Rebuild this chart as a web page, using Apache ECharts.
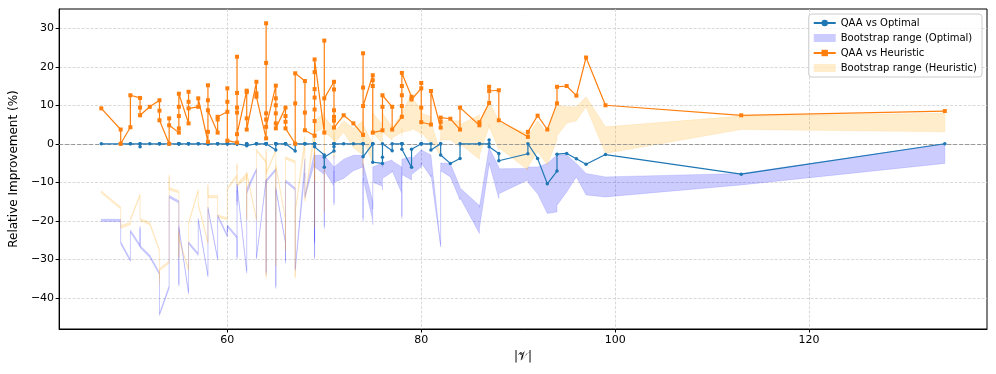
<!DOCTYPE html>
<html>
<head>
<meta charset="utf-8">
<script src="https://cdn.jsdelivr.net/npm/echarts@6/dist/echarts.min.js"></script>
<style>html, body { margin: 0; padding: 0; background: #fff; }</style>
</head>
<body>
<div id="main" style="width: 996px; height: 374px"></div>
<script>
// |V| of each instance (one entry per instance, sorted)
var sizes = [
    47, 49, 49, 50, 50, 51, 51, 51, 52, 53, 53, 53, 54, 54, 54,
    55, 55, 55, 55, 55, 56, 56, 56, 56, 57, 57, 58, 58, 58, 58, 58,
    59, 59, 59, 60, 60, 60, 60, 61, 61, 61, 61, 61, 61, 62, 62, 62, 62,
    63, 63, 63, 64, 64, 64, 64, 64, 64, 65, 65, 65, 65, 65, 65,
    66, 66, 66, 66, 67, 67, 67, 68, 68, 68, 69, 69, 69, 69, 69, 69, 69,
    70, 70, 70, 71, 71, 71, 71, 71, 71, 72, 73, 74, 74, 74, 74,
    75, 75, 75, 75, 76, 76, 76, 77, 77, 78, 78, 78, 78, 78, 79, 79,
    80, 80, 80, 80, 81, 81, 82, 82, 82, 83, 84, 84, 86, 86, 87, 87, 87,
    88, 88, 91, 91, 92, 93, 94, 94, 95, 96, 97, 99, 113, 134
];
// relative improvement vs optimal (%)
var vsOptimal = [
    0, 0, 0, 0, 0, 0, -0.8, 0, 0, 0, 0, 0, 0, 0, 0,
    0, 0, 0, 0, 0, 0, 0, 0, 0, 0, 0, 0, 0, 0, 0, 0,
    0, 0, 0, 0, 0, 0, 0, 0, 0, 0, 0, 0, 0, -0.5, 0, 0, 0,
    0, 0, 0, 0, 0, 0, 0, 0, 0, -1.6, 0, 0, 0, 0, 0,
    0, 0, 0, 0, -1.9, 0, 0, 0, 0, 0, 0, 0, 0, 0, 0, 0, -0.8,
    -2.9, -6.1, -3.5, -1.9, -0.8, 0, 0, 0, 0, 0, 0, 0, 0, 0, -3.4,
    0, 0, 0, -4.8, -5.1, -3.5, 0, -1.8, 0, 0, 0, 0, 0, -1.4, -6.1, -1.4,
    0, 0, 0, 0, 0, -1.6, 0, 0, -2.9, -5.1, -3.8, 0, 0, 0, 0, 1.0, -0.8,
    -2.5, -4.4, -2.6, 0, -3.8, -10.4, -7.1, -2.7, -2.5, -3.9, -5.3, -2.8, -7.9, 0
];
// relative improvement vs heuristic (%)
var vsHeuristic = [
    9.2, 3.7, 0, 4.3, 12.6, 11.9, 9.4, 7.4, 9.6, 11.3, 8.6, 6.1, 0, 6.6, 4.8,
    2.9, 4.0, 7.2, 9.6, 13.0, 5.3, 13.5, 10.9, 9.2, 9.6, 11.8, 0.5, 3.1, 15.2, 11.3, 8.7,
    2.9, 6.3, 7.0, 8.3, 10.9, 14.4, 0.8, 0.3, 22.6, 13.2, 9.4, 8.1, 2.5, 13.8, 13.4, 6.6, 3.7,
    16.1, 13.1, 12.2, 1.4, 31.3, 21.0, 7.9, 6.3, 4.4, 15.1, 11.8, 10.0, 7.9, 5.3, 4.0,
    9.4, 7.2, 5.7, 4.0, 0, 10.5, 18.3, 16.3, 8.1, 3.5, 2.1, 5.9, 8.9, 12.0, 14.2, 18.6, 21.9,
    2.9, 26.8, 11.8, 16.1, 14.1, 8.7, 7.0, 6.0, 4.2, 7.4, 5.3, 2.3, 23.5, 14.6, 9.8,
    17.8, 16.5, 15.0, 2.9, 3.5, 9.6, 12.6, 9.6, 3.7, 7.0, 9.8, 12.6, 15.0, 18.4, 12.2, 11.5,
    14.4, 15.8, 9.4, 5.6, 5.0, 13.7, 4.2, 5.7, 6.8, 6.5, 3.7, 9.4, 4.8, 5.6, 10.6, 14.8, 13.7,
    13.9, 6.1, 1.8, 3.1, 7.3, 3.7, 10.5, 14.8, 15.0, 12.5, 22.4, 10.0, 7.4, 8.5
];
// bootstrap range [low, high] vs optimal
var optBand = [
    [-20.2, -19.6], [-20.2, -19.6], [-26, -25.4], [-30.6, -30], [-23, -22.4],
    [-26.8, -26.2], [-22, -21.4], [-27, -26.4], [-29.5, -28.9],
    [-34, -33.4], [-41.6, -41], [-44.6, -44], [-37.6, -36.8], [-20, -19.4], [-14, -13.4],
    [-15.4, -14.8], [-20, -19.4], [-37, -36.4], [-25, -24.4], [-22, -21.4],
    [-39, -38.4], [-35, -34.4], [-30, -29.4], [-26, -25.4], [-29, -28.4], [-20, -19.4],
    [-34.6, -34], [-30, -29.4], [-29, -28.4], [-20, -19.4], [-17, -16.4],
    [-30.2, -29.6], [-24, -23.4], [-19, -18.4],
    [-24.2, -23.6], [-22, -21.4], [-23, -22.4], [-21.6, -21],
    [-24.6, -24], [-30, -29.4], [-12, -10.4], [-14, -13.4], [-16, -15], [-11, -10.4],
    [-33.6, -33], [-21.6, -20], [-17, -15], [-13, -11.6],
    [-7, -6.4], [-20, -19.4], [-30, -29.4],
    [-9.6, -9], [-22, -21.4], [-34, -33.4], [-25, -24.4], [-14, -13.4], [-10, -9.4],
    [-7, -6.4], [-17, -16.4], [-37.6, -37], [-30, -29.4], [-20, -19.4], [-12, -11.4],
    [-26, -25.4], [-31, -30.4], [-18, -17.4], [-10, -9.4],
    [-12, -11.4], [-25, -24.4], [-33, -32.4],
    [-7.6, -4], [-10, -6], [-14, -13.4],
    [-5, -2], [-30, -29.4], [-8, -5], [-12, -11.4], [-20, -19.4], [-26, -25.4], [-6, -3],
    [-8, -3], [-22, -21.4], [-7, -3],
    [-11, -6], [-16, -15.4], [-8, -4], [-7, -3], [-9, -5], [-10, -6],
    [-9, -4], [-7, -3],
    [-6, -3], [-20, -19.4], [-14, -8], [-9, -5],
    [-20, -15], [-21, -17], [-14, -10], [-10, -6],
    [-11, -5], [-12, -6], [-9, -5], [-7.3, -4.2], [-7, -4.5],
    [-12.9, -6], [-19.4, -18.8], [-10, -6], [-9, -5], [-8, -4], [-9.4, -3.4], [-8, -4],
    [-6, -1.6], [-5, -2], [-6, -2], [-5, -1.6], [-8.6, -2.9], [-8, -3],
    [-26.8, -26.2], [-8, -5], [-7, -5], [-8.6, -5.1], [-14.6, -11.2], [-14, -11.5],
    [-23.3, -16], [-22, -16.5], [-5.5, -0.8], [-5, -1], [-5, -1],
    [-14.2, -6], [-13, -6.5], [-9.4, -6.4], [-10, -6], [-13, -6], [-18.1, -5.1],
    [-17.7, -2.9], [-16, -3], [-12.5, -2.9], [-8.6, -5.1], [-13.3, -7.7], [-13.8, -8.6],
    [-10.7, -7.7], [-5.1, 0]
];
// bootstrap range [low, high] vs heuristic
var heurBand = [
    [-12.8, -12.2], [-17, -16.4], [-22, -21.2], [-21, -20.4], [-20, -19.4],
    [-13.6, -13], [-15, -14.4], [-20, -19.4], [-21, -20.4],
    [-28, -27.4], [-36.6, -35], [-33, -32.4], [-31, -30.4], [-8.6, -8], [-12, -11.4],
    [-12.8, -12.2], [-20, -19.4], [-30, -29.4], [-23, -22.4], [-25, -24.4],
    [-33, -32.4], [-28, -27.4], [-24, -23.4], [-21, -20.4], [-12.4, -11.8], [-16, -15.4],
    [-26, -25.4], [-24, -23.4], [-20, -19.4], [-11, -10.4], [-14, -13.4],
    [-14, -13.4], [-16.6, -16], [-19, -18.4],
    [-19.8, -19.2], [-18, -17.4], [-15, -14.4], [-12, -11.4],
    [-8.6, -8], [-9, -6], [-9.6, -5], [-10, -7], [-8, -5.6], [-11, -10.4],
    [-9, -7.6], [-20, -19.4], [-12, -10], [-7.8, -7.2],
    [-20, -19.4], [-9, -8.4], [-2, -1.4],
    [-5, -4.4], [-25, -24.4], [-35, -34.4], [-15, -14.4], [-2, -1.4], [-8, -7.4],
    [-2, -1.4], [-10, -9.4], [-26, -25.4], [-32, -31.4], [-18, -17.4], [-6, -5.4],
    [-20, -19.4], [-28, -27.4], [-10, -9.4], [-4, -3.4],
    [-5, -4.4], [-35, -34.4], [-18, -17.4],
    [-1, 2], [-5, -2], [-15, -14.4],
    [2, 5], [-10, -9.4], [0, 3], [-3, -2.4], [-13, -12.4], [-22, -21.4], [3, 6],
    [4, 8], [-18, -17.4], [3, 7],
    [1, 4], [-4, -3.4], [2, 5], [3, 6], [1, 4], [0, 3],
    [3, 6], [-1, 4],
    [-3, 6], [-8, -6], [3, 8], [1, 5],
    [-5, 0], [1, 5], [2, 6], [3, 8],
    [0, 5], [2, 6], [3, 8], [1, 4.4], [1.5, 4],
    [3, 8], [2, 7], [3, 9], [4, 10], [3, 8], [3.5, 13], [4, 12],
    [2.7, 9], [3, 9.5], [2, 8], [3, 8], [0, 7], [1, 6],
    [-3.4, -2.8], [0, 7], [1, 6], [1, 6], [-0.8, 6], [0, 5],
    [-4, 7.5], [-3, 6], [4.4, 11], [5, 10.5], [4.5, 11],
    [-1.6, 6], [-1, 5.5], [-6.8, 2.7], [-6, 2], [-2, 6], [-5.5, 2.7],
    [1, 10.5], [2, 10], [5.3, 9.6], [6, 9.6], [9.6, 12.2], [-2.5, 4.4],
    [3.7, 7.2], [3.1, 7.9]
];
var xTicks = [60, 80, 100, 120];
var yTicks = [-40, -30, -20, -10, 0, 10, 20, 30];

var font = 'DejaVu Sans';
var chart = echarts.init(document.getElementById('main'));

// fill_between-like band: one polygon, upper edge forward then lower edge back
function bandSeries(name, band, color) {
    return {
        name: name,
        type: 'custom',
        z: 1,
        itemStyle: {color: color},
        data: sizes.map(function (x, i) { return [x, band[i][0], band[i][1]]; }),
        encode: {x: 0, y: [1, 2]},
        renderItem: function (params, api) {
            if (params.dataIndex !== 0) return null;
            var pts = [];
            for (var i = 0; i < sizes.length; i++) pts.push(api.coord([sizes[i], band[i][1]]));
            for (var j = sizes.length - 1; j >= 0; j--) pts.push(api.coord([sizes[j], band[j][0]]));
            return {
                type: 'polygon',
                shape: {points: pts},
                style: {fill: color, stroke: color, lineWidth: 0.6}
            };
        }
    };
}

function lineSeries(name, values, color, symbol, size) {
    return {
        name: name,
        type: 'line',
        z: 3,
        data: sizes.map(function (x, i) { return [x, values[i]]; }),
        symbol: symbol,
        symbolSize: size,
        showAllSymbol: true,
        itemStyle: {color: color},
        lineStyle: {color: color, width: 1.2}
    };
}

var blue = '#1f77b4', orange = '#ff7f0e';
var optBandSeries = bandSeries('Bootstrap range (Optimal)', optBand, 'rgba(0,0,255,0.2)');
// dashed zero reference line
optBandSeries.markLine = {
    silent: true, symbol: 'none', z: 2,
    label: {show: false},
    lineStyle: {color: '#999999', type: [4, 2], width: 1, opacity: 1},
    data: [{yAxis: 0}]
};

var option = {
    animation: false,
    grid: {left: 52, right: 9, top: 9, bottom: 45, show: true, borderColor: '#000', borderWidth: 1},
    legend: {
        orient: 'vertical', right: 14, top: 14,
        data: [
            {name: 'QAA vs Optimal'},
            {name: 'Bootstrap range (Optimal)', icon: 'rect'},
            {name: 'QAA vs Heuristic'},
            {name: 'Bootstrap range (Heuristic)', icon: 'rect'}
        ],
        itemWidth: 22, itemHeight: 8, itemGap: 5,
        textStyle: {fontFamily: font, fontSize: 10, color: '#000'},
        backgroundColor: 'rgba(255,255,255,0.8)',
        borderColor: '#cccccc', borderWidth: 1, borderRadius: 3,
        padding: [4, 5, 4, 4]
    },
    xAxis: {
        type: 'value', min: 42.65, max: 138.35,
        name: '|𝒱|', nameLocation: 'middle', nameGap: 20,
        nameTextStyle: {fontFamily: font, fontSize: 12, color: '#000'},
        axisLine: {onZero: false, lineStyle: {color: '#000', width: 1}},
        axisTick: {show: true, length: 3.5, customValues: xTicks, lineStyle: {color: '#000'}},
        axisLabel: {customValues: xTicks, margin: 6, fontFamily: font, fontSize: 11, color: '#000'},
        splitLine: {show: true, lineStyle: {color: '#d0d0d0', type: [3, 1.5], width: 0.8}}
    },
    yAxis: {
        type: 'value', min: -48.1, max: 35,
        name: 'Relative Improvement (%)', nameLocation: 'middle', nameGap: 32,
        nameTextStyle: {fontFamily: font, fontSize: 12, color: '#000'},
        axisLine: {show: true, onZero: false, lineStyle: {color: '#000', width: 1}},
        axisTick: {show: true, length: 3.5, customValues: yTicks, lineStyle: {color: '#000'}},
        axisLabel: {
            customValues: yTicks, margin: 5, fontFamily: font, fontSize: 11, color: '#000',
            formatter: function (v) { return String(v).replace('-', '\u2212'); }
        },
        splitLine: {show: true, lineStyle: {color: '#d0d0d0', type: [3, 1.5], width: 0.8}}
    },
    series: [
        lineSeries('QAA vs Optimal', vsOptimal, blue, 'circle', 3.5),
        optBandSeries,
        lineSeries('QAA vs Heuristic', vsHeuristic, orange, 'rect', 4),
        bandSeries('Bootstrap range (Heuristic)', heurBand, 'rgba(255,165,0,0.2)')
    ]
};
chart.setOption(option);
</script>
</body>
</html>
